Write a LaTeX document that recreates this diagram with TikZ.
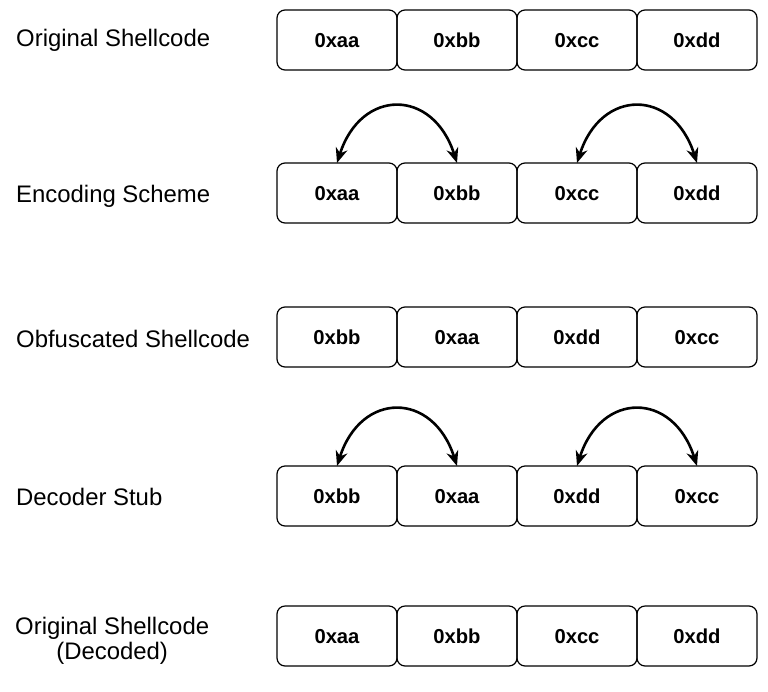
\documentclass[tikz,border=0pt]{standalone}
\usepackage{fontspec}
\setmainfont{Liberation Sans}
\usetikzlibrary{arrows.meta,positioning}

\tikzset{
  cell/.style={draw, rounded corners=8pt, line width=1.2pt, minimum width=120pt,
    minimum height=60pt, outer sep=0pt, inner sep=0pt,
    text height=14.2pt, text depth=0pt,
    font=\fontsize{20.2}{22}\selectfont\bfseries},
  rowlabel/.style={anchor=west, inner sep=0pt, align=center,
    font=\fontsize{23.9}{25}\selectfont},
  swaparc/.style={line width=2.6pt,
    {Stealth[length=15pt,width=12pt]}-{Stealth[length=15pt,width=12pt]}}
}

\begin{document}
\begin{tikzpicture}[x=1pt, y=-1pt]
  \useasboundingbox (0,0) rectangle (768,691);
  % byte rows
  \foreach \row/\y/\vals in {orig/40/{0xaa,0xbb,0xcc,0xdd},
      enc/193/{0xaa,0xbb,0xcc,0xdd}, obf/337/{0xbb,0xaa,0xdd,0xcc},
      dec/496/{0xbb,0xaa,0xdd,0xcc}, fin/636/{0xaa,0xbb,0xcc,0xdd}}
    \foreach \v [count=\i] in \vals
      \node[cell] (\row\i) at ({217+120*\i},\y) {\v};
  % row labels
  \node[rowlabel] (origlbl) at (16,40) {Original Shellcode};
  \node[rowlabel] (enclbl) at (16,196) {Encoding Scheme};
  \node[rowlabel] (obflbl) at (16,339) {Obfuscated Shellcode};
  \node[rowlabel] (declbl) at (16,497) {Decoder Stub};
  \node[rowlabel] (finlbl) at (15,641) {Original Shellcode\\(Decoded)};
  % swaps
  \draw[swaparc] (enc1.north) .. controls +(24,-75) and +(-24,-75) .. (enc2.north);
  \draw[swaparc] (enc3.north) .. controls +(24,-75) and +(-24,-75) .. (enc4.north);
  \draw[swaparc] (dec1.north) .. controls +(24,-75) and +(-24,-75) .. (dec2.north);
  \draw[swaparc] (dec3.north) .. controls +(24,-75) and +(-24,-75) .. (dec4.north);
\end{tikzpicture}
\end{document}
